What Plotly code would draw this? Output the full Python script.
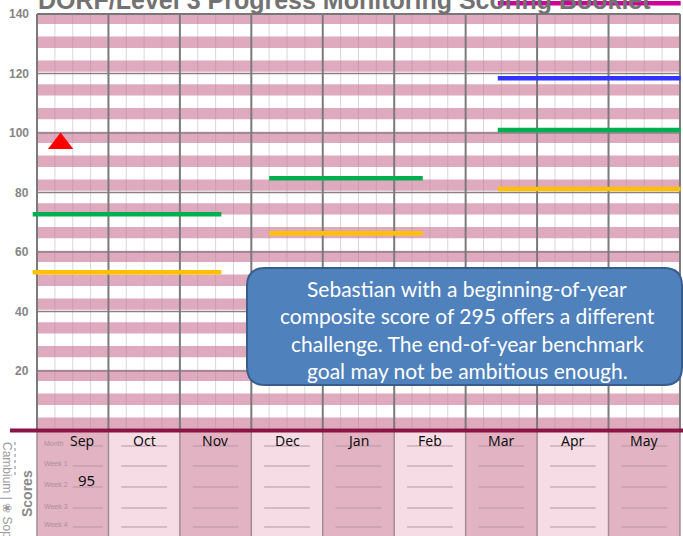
import plotly.graph_objects as go

# ---------------- data ----------------
months = ["Sep", "Oct", "Nov", "Dec", "Jan", "Feb", "Mar", "Apr", "May"]
y_ticks = [20, 40, 60, 80, 100, 120, 140]
row_labels = ["Month", "Week 1", "Week 2", "Week 3", "Week 4"]

# goal segments (x in month units: 0 = start of Sep, 9 = end of May)
seg_start = [-0.06, 3.25, 6.45]
seg_end = [2.58, 5.40, 9.01]
green_goal = [72.7, 84.8, 101.0]
yellow_goal = [53.2, 66.3, 81.2]
blue_goal = [None, None, 118.4]
magenta_goal = [None, None, 143.6]

score_x = [0.33]
score_y = [96.5]
score_label = "95"

callout_lines = [
    "Sebastian with a beginning-of-year",
    "composite score of 295 offers a different",
    "challenge. The end-of-year benchmark",
    "goal may not be ambitious enough.",
]

# ---------------- layout constants ----------------
W, H = 683, 536
X0PX, XS = 37.0, 71.44      # pixel of x=0, px per month
Y0PX, YS = 430.5, 2.975     # pixel of y=0, px per unit
x_range = [-X0PX / XS, (W - X0PX) / XS]
y_range = [(Y0PX - H) / YS, Y0PX / YS]


def ydat(py):
    return (Y0PX - py) / YS


def px_x(px):
    return px / W


def px_y(py):
    return 1 - py / H


fig = go.Figure()


def seg_trace(vals, color, name):
    xs, ys = [], []
    for s, e, v in zip(seg_start, seg_end, vals):
        if v is None:
            continue
        xs += [s, e, None]
        ys += [v, v, None]
    fig.add_trace(go.Scatter(x=xs, y=ys, mode="lines", name=name,
                             line=dict(color=color, width=4.5),
                             hoverinfo="skip", showlegend=False))


seg_trace(yellow_goal, "#FFC000", "yellow")
seg_trace(green_goal, "#00B050", "green")
seg_trace(blue_goal, "#3333FF", "blue")
seg_trace(magenta_goal, "#CC0099", "magenta")

fig.add_trace(go.Scatter(x=score_x, y=score_y, mode="markers",
                         marker=dict(symbol="triangle-up", size=22, color="#FF0000"),
                         cliponaxis=False, showlegend=False, hoverinfo="skip"))

shapes = []
# pink stripes
for k in range(18):
    y0 = 8 * k + 0.6
    y1 = min(8 * k + 4.4, 140)
    shapes.append(dict(type="rect", xref="x", yref="y", x0=0, x1=9, y0=y0, y1=y1,
                       fillcolor="#E0AABE", line=dict(width=0), layer="below"))
# week lines
for m in range(9):
    for q in (1, 2, 3):
        shapes.append(dict(type="line", xref="x", yref="y", x0=m + q / 4, x1=m + q / 4,
                           y0=0, y1=140, line=dict(color="rgba(150,140,145,0.35)", width=1),
                           layer="below"))
# horizontal grid
for t in y_ticks[:-1]:
    shapes.append(dict(type="line", xref="x", yref="y", x0=0, x1=9, y0=t, y1=t,
                       line=dict(color="#8E7E86", width=1.5), layer="below"))
shapes.append(dict(type="line", xref="x", yref="y", x0=0, x1=9, y0=140, y1=140,
                   line=dict(color="#777777", width=2), layer="below"))
# month lines in plot
for m in range(10):
    shapes.append(dict(type="line", xref="x", yref="y", x0=m, x1=m, y0=0, y1=140,
                       line=dict(color="#7A7A7A", width=2), layer="below"))
# table column fills
for i in range(9):
    shapes.append(dict(type="rect", xref="x", yref="y", x0=i, x1=i + 1,
                       y0=y_range[0], y1=0,
                       fillcolor="#E2B3C3" if i % 2 == 0 else "#F6DDE5",
                       line=dict(width=0), layer="below"))
for m in range(10):
    shapes.append(dict(type="line", xref="x", yref="y", x0=m, x1=m, y0=y_range[0], y1=0,
                       line=dict(color="#A08C95", width=1.5), layer="below"))
# underlines in table
row_py = [446, 466, 487, 508, 527]
for i in range(9):
    x0, x1 = (0.5, 0.92) if i == 0 else (i + 0.18, i + 0.82)
    for py in row_py:
        shapes.append(dict(type="line", xref="x", yref="y", x0=x0, x1=x1,
                           y0=ydat(py), y1=ydat(py),
                           line=dict(color="#B596A3", width=1), layer="below"))
# maroon zero line
shapes.append(dict(type="line", xref="x", yref="y", x0=(10 - X0PX) / XS, x1=x_range[1],
                   y0=0, y1=0, line=dict(color="#8A1446", width=4), layer="below"))
# small dotted line under "Cambium"
shapes.append(dict(type="line", xref="paper", yref="paper", x0=px_x(15), x1=px_x(15),
                   y0=px_y(442), y1=px_y(478),
                   line=dict(color="#B0B0B0", width=1.5, dash="dot"), layer="above"))

# callout rounded box (paper coords == pixels here)
bx0, bx1, by0, by1, r = 247, 682, 268, 385, 18


def P(x, y):
    return f"{px_x(x):.5f},{px_y(y):.5f}"


path = (f"M{P(bx0 + r, by0)} L{P(bx1 - r, by0)} Q{P(bx1, by0)} {P(bx1, by0 + r)} "
        f"L{P(bx1, by1 - r)} Q{P(bx1, by1)} {P(bx1 - r, by1)} "
        f"L{P(bx0 + r, by1)} Q{P(bx0, by1)} {P(bx0, by1 - r)} "
        f"L{P(bx0, by0 + r)} Q{P(bx0, by0)} {P(bx0 + r, by0)} Z")
shapes.append(dict(type="path", xref="paper", yref="paper", path=path,
                   fillcolor="#4F81BD", line=dict(color="#385D8A", width=2), layer="above"))

annotations = []
# title (cut off at top)
annotations.append(dict(xref="paper", yref="paper", x=px_x(36), y=px_y(0),
                        xanchor="left", yanchor="middle", showarrow=False,
                        text="<b>DORF/Level 3 Progress Monitoring Scoring Booklet</b>",
                        font=dict(family="Liberation Sans, Arial", size=25, color="#727272")))
# y tick labels
for t in y_ticks:
    annotations.append(dict(xref="paper", yref="y", x=px_x(31), y=t, xanchor="right",
                            yanchor="middle", showarrow=False, text=f"<b>{t}</b>",
                            font=dict(family="Liberation Sans, Arial", size=12, color="#858585")))
# month names
mono = "Comic Sans MS, Noto Sans, DejaVu Sans"
for i, mname in enumerate(months):
    cx = 0.63 if i == 0 else i + 0.5
    annotations.append(dict(xref="x", yref="y", x=cx, y=ydat(440), showarrow=False,
                            xanchor="center", yanchor="middle",
                            text=mname, font=dict(family=mono, size=14, color="#111111")))
# row labels
for lab, py in zip(row_labels, [443, 463, 484, 506, 524]):
    annotations.append(dict(xref="paper", yref="y", x=px_x(42), y=ydat(py), xanchor="left",
                            yanchor="middle", showarrow=False, text=lab,
                            font=dict(family="Liberation Sans, Arial", size=7, color="#A89099")))
# recorded score
annotations.append(dict(xref="x", yref="y", x=0.69, y=ydat(480), showarrow=False,
                        xanchor="center", yanchor="middle",
                        text=score_label, font=dict(family=mono, size=15, color="#111111")))
# left strip
annotations.append(dict(xref="paper", yref="paper", x=px_x(7), y=px_y(440), yanchor="top",
                        xanchor="center", showarrow=False, textangle=90,
                        text="Cambium | \u2740 Sopris",
                        font=dict(family="Liberation Sans, Arial", size=12, color="#9A9A9A")))
annotations.append(dict(xref="paper", yref="paper", x=px_x(27), y=px_y(494),
                        xanchor="center", yanchor="middle",
                        showarrow=False, textangle=-90, text="<b>Scores</b>",
                        font=dict(family="Liberation Sans, Arial", size=14, color="#8A8A8A")))
# callout text
for line, py in zip(callout_lines, [288, 315, 343, 370]):
    annotations.append(dict(xref="paper", yref="paper", x=px_x(467), y=px_y(py),
                            xanchor="center", yanchor="middle",
                            showarrow=False, text=line,
                            font=dict(family="Lato, Open Sans", size=21, color="#FFFFFF")))

fig.update_layout(
    width=W, height=H, margin=dict(l=0, r=0, t=0, b=0),
    paper_bgcolor="white", plot_bgcolor="white",
    xaxis=dict(range=x_range, visible=False, fixedrange=True),
    yaxis=dict(range=y_range, visible=False, fixedrange=True),
    shapes=shapes, annotations=annotations, showlegend=False,
)

fig.write_html("out.html", config={"displayModeBar": False},
               post_script="document.body.style.margin='0';document.body.style.overflow='hidden';")
